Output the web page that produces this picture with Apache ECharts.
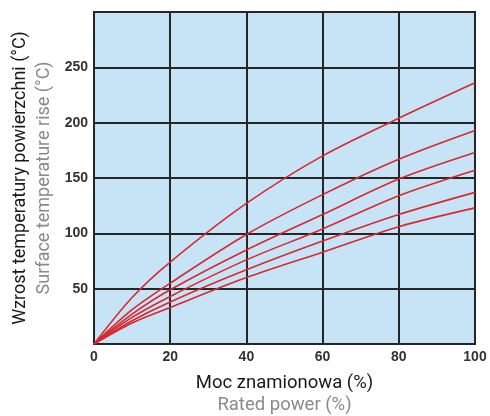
<!DOCTYPE html>
<html>
<head>
<meta charset="utf-8">
<script src="https://cdn.jsdelivr.net/npm/echarts@6/dist/echarts.min.js"></script>
<style>
html,body{margin:0;padding:0;background:#fff;}
#c{width:490px;height:416px;}
</style>
</head>
<body>
<div id="c"></div>
<script>
var xValues = [0, 10, 20, 40, 60, 80, 100];
var s1 = [0, 42, 74, 127, 170, 204, 236];
var s2 = [0, 31, 55, 99, 135, 167, 193];
var s3 = [0, 27, 49, 85, 117, 149, 173];
var s4 = [0, 24, 43, 76, 104, 134, 157];
var s5 = [0, 21, 38, 67, 93, 117, 137];
var s6 = [0, 19, 33, 60, 83, 106, 123];
var xTickLabels = [0, 20, 40, 60, 80, 100];
var yTickLabels = [50, 100, 150, 200, 250];

function pairs(vals) {
  return xValues.map(function (x, i) { return [x, vals[i]]; });
}
var allSeries = [s1, s2, s3, s4, s5, s6];

var chart = echarts.init(document.getElementById('c'), null, {renderer: 'canvas'});
var gridColor = '#262626';
chart.setOption({
  animation: false,
  grid: {
    left: 94, right: 15, top: 12, bottom: 72,
    containLabel: false, outerBoundsMode: 'none',
    show: true, backgroundColor: '#c6e4f5',
    borderColor: gridColor, borderWidth: 2
  },
  xAxis: {
    type: 'value', min: 0, max: 100, interval: 20,
    axisLine: {show: true, lineStyle: {color: gridColor, width: 2}},
    axisTick: {show: false},
    splitLine: {show: true, lineStyle: {color: gridColor, width: 2}},
    axisLabel: {
      margin: 6, color: '#333', fontFamily: 'Liberation Sans', fontWeight: 'bold', fontSize: 14,
      formatter: function (v) { return xTickLabels.indexOf(v) >= 0 ? String(v) : ''; }
    },
    name: '{a|Moc znamionowa (%)}\n{b|Rated power (%)}',
    nameLocation: 'middle', nameGap: 28,
    nameTextStyle: {
      rich: {
        a: {fontFamily: 'Roboto', fontSize: 18.5, color: '#1a1a1a', lineHeight: 22},
        b: {fontFamily: 'Roboto', fontSize: 18.5, color: '#8a8a8a', lineHeight: 22}
      }
    }
  },
  yAxis: {
    type: 'value', min: 0, max: 300, interval: 50,
    axisLine: {show: true, lineStyle: {color: gridColor, width: 2}},
    axisTick: {show: false},
    splitLine: {show: true, lineStyle: {color: gridColor, width: 2}},
    axisLabel: {
      margin: 6, color: '#333', fontFamily: 'Liberation Sans', fontWeight: 'bold', fontSize: 14,
      formatter: function (v) { return yTickLabels.indexOf(v) >= 0 ? String(v) : ''; }
    },
    name: '{a|Wzrost temperatury powierzchni (°C)}\n{b|Surface temperature rise (°C)}',
    nameLocation: 'middle', nameGap: 30, nameRotate: 90,
    nameTextStyle: {
      rich: {
        a: {fontFamily: 'Roboto', fontSize: 18, color: '#1a1a1a', lineHeight: 24},
        b: {fontFamily: 'Roboto', fontSize: 18, color: '#8a8a8a', lineHeight: 24}
      }
    }
  },
  series: allSeries.map(function (s) {
    return {
      type: 'line', data: pairs(s), smooth: 0.3, showSymbol: false, symbol: 'none',
      lineStyle: {color: '#d9272e', width: 1.6}
    };
  })
});
</script>
</body>
</html>
